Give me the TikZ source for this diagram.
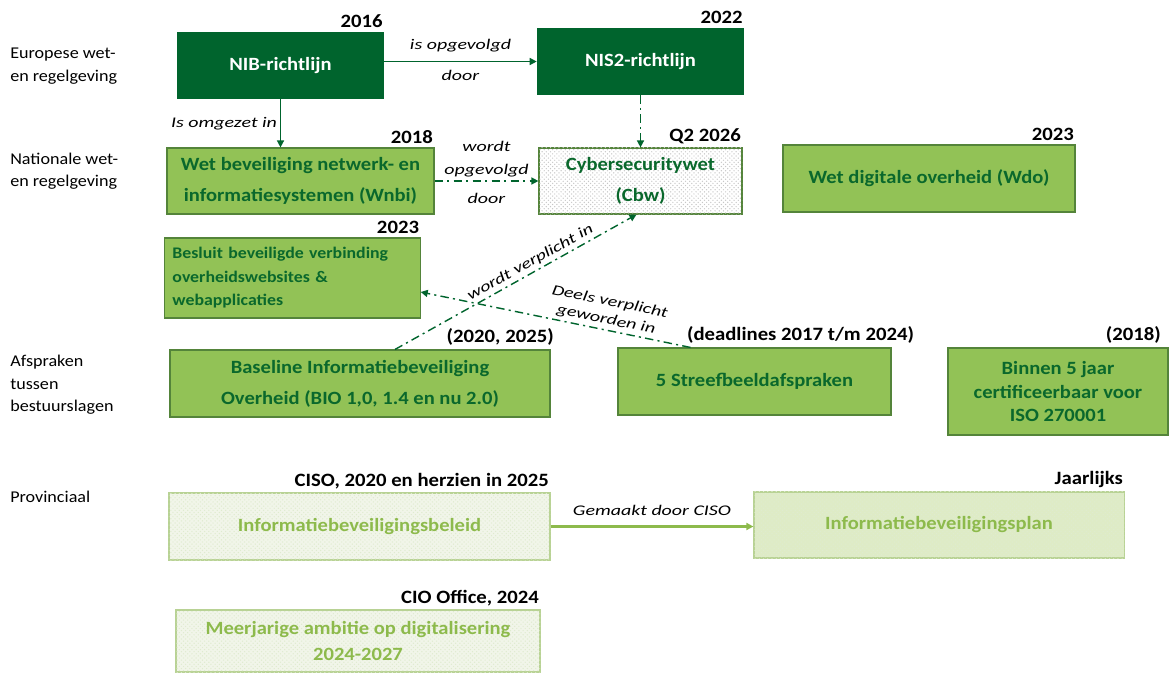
\documentclass[tikz,border=0pt]{standalone}
\usepackage{fontspec}
\setmainfont{Carlito}[FakeStretch=1.1]
\newfontfamily\verbfont{Carlito}[FakeStretch=1.35]
\usetikzlibrary{positioning, patterns, arrows.meta}

\definecolor{eugreen}{RGB}{0,100,45}
\definecolor{nlgreen}{RGB}{146,194,86}
\definecolor{nledge}{RGB}{84,132,58}
\definecolor{nltext}{RGB}{10,104,44}
\definecolor{provfill}{RGB}{241,245,233}
\definecolor{planfill}{RGB}{222,235,198}
\definecolor{provedge}{RGB}{184,210,148}
\definecolor{provtext}{RGB}{141,186,76}

\tikzset{
  eubox/.style={fill=eugreen, text=white, inner sep=0pt,
    font=\fontsize{13.3}{20}\selectfont\bfseries},
  nlbox/.style={fill=nlgreen, draw=nledge, line width=0.8pt, text=nltext,
    align=center, inner sep=0pt, font=\fontsize{13.3}{22}\selectfont\bfseries},
  cbwbox/.style={nlbox, fill=white,
    postaction={pattern=crosshatch dots, pattern color=black!22}},
  provbox/.style={fill=provfill, draw=provedge, line width=0.8pt, text=provtext,
    align=center, inner sep=0pt, font=\fontsize{13.3}{18.5}\selectfont\bfseries,
    postaction={pattern=crosshatch dots, pattern color=provedge!45}},
  planbox/.style={provbox, fill=planfill, postaction={}},
  yearlbl/.style={anchor=south east, inner xsep=1pt, inner ysep=2.5pt,
    font=\fontsize{13.4}{16}\selectfont\bfseries},
  rowlbl/.style={anchor=west, align=left, inner sep=0pt,
    font=\fontsize{11.7}{16}\selectfont},
  verblbl/.style={font=\verbfont\fontsize{10.5}{17}\selectfont\itshape, inner sep=2pt},
  link/.style={draw=eugreen, line width=1pt, -{Triangle[length=5pt,width=5pt]}},
  linkdd/.style={link, dash pattern=on 6pt off 3pt on 1.5pt off 3pt},
  provlink/.style={draw=provtext, line width=1.6pt, -{Triangle[length=5pt,width=5pt]}}
}

\begin{document}
\begin{tikzpicture}[x=0.025cm, y=-0.025cm]
  \useasboundingbox (0,0) rectangle (1176,677);

  % row labels on the left
  \node[rowlbl] (eurow) at (10,66) {Europese wet-\\en regelgeving};
  \node[rowlbl] (nlrow) at (10,171) {Nationale wet-\\en regelgeving};
  \node[rowlbl] (afrow) at (10,385) {Afspraken\\tussen\\bestuurslagen};
  \node[rowlbl] (prrow) at (10,497) {Provinciaal};

  % european level
  \node[eubox, minimum width=5.175cm, minimum height=1.675cm] (nib) at (280.5,65.5) {NIB-richtlijn};
  \node[eubox, minimum width=5.175cm, minimum height=1.675cm] (nis2) at (640.5,61.5) {NIS2-richtlijn};
  \node[yearlbl] (ynib) at (nib.north east) {2016};
  \node[yearlbl] (ynis2) at (nis2.north east) {2022};

  % national level
  \node[nlbox, minimum width=6.675cm, minimum height=1.65cm] (wnbi) at (300.5,181) {Wet beveiliging netwerk- en\\informatiesystemen (Wnbi)};
  \node[cbwbox, minimum width=5.075cm, minimum height=1.65cm] (cbw) at (640.5,181) {Cybersecuritywet\\(Cbw)};
  \node[nlbox, minimum width=7.3cm, minimum height=1.675cm] (wdo) at (929,178.5) {Wet digitale overheid (Wdo)};
  \node[nlbox, align=left, text width=6.0cm, inner xsep=0.19cm, minimum height=2cm,
    font=\fontsize{11.5}{16.7}\selectfont\bfseries] (besluit) at (292.5,278)
    {Besluit beveiligde verbinding\\overheidswebsites \&\\webapplicaties};
  \node[yearlbl] (ywnbi) at (wnbi.north east) {2018};
  \node[yearlbl] (ycbw) at (cbw.north east) {Q2 2026};
  \node[yearlbl] (ywdo) at (wdo.north east) {2023};
  \node[yearlbl] (ybesluit) at (besluit.north east) {2023};

  % afspraken tussen bestuurslagen
  \node[nlbox, minimum width=9.5cm, minimum height=1.675cm] (bio) at (360,383.5) {Baseline Informatiebeveiliging\\Overheid (BIO 1,0, 1.4 en nu 2.0)};
  \node[nlbox, minimum width=6.825cm, minimum height=1.675cm] (streef) at (754.5,381.5) {5 Streefbeeldafspraken};
  \node[nlbox, minimum width=5.5cm, minimum height=2.175cm,
    font=\fontsize{13.3}{16.8}\selectfont\bfseries] (iso) at (1058,391.5) {Binnen 5 jaar\\certificeerbaar voor\\ISO 270001};
  \node[yearlbl] (ybio) at ([xshift=0.12cm]bio.north east) {(2020, 2025)};
  \node[yearlbl] (ystreef) at ([xshift=0.6cm]streef.north east) {(deadlines 2017 t/m 2024)};
  \node[yearlbl] (yiso) at ([xshift=-0.15cm]iso.north east) {(2018)};

  % provinciaal
  \node[provbox, minimum width=9.525cm, minimum height=1.675cm] (beleid) at (359.5,526.5) {Informatiebeveiligingsbeleid};
  \node[planbox, minimum width=9.25cm, minimum height=1.65cm] (plan) at (939,525) {Informatiebeveiligingsplan};
  \node[provbox, minimum width=9.1cm, minimum height=1.55cm] (meer) at (358,641) {Meerjarige ambitie op digitalisering\\2024-2027};
  \node[yearlbl] (ybeleid) at (beleid.north east) {CISO, 2020 en herzien in 2025};
  \node[yearlbl] (yplan) at (plan.north east) {Jaarlijks};
  \node[yearlbl] (ymeer) at (meer.north east) {CIO Office, 2024};

  % connectors
  \draw[link] (nib.east |- nis2.west) -- (nis2.west)
    node[midway, above=4pt, verblbl] {is opgevolgd}
    node[midway, below=4pt, verblbl] {door};
  \draw[link] (nib.south) -- (nib.south |- wnbi.north)
    node[midway, left, verblbl] {Is omgezet in};
  \draw[linkdd] (nis2.south) -- (nis2.south |- cbw.north);
  \draw[linkdd] (wnbi.east) -- (wnbi.east -| cbw.west)
    node[midway, above, verblbl, align=center] {wordt\\opgevolgd}
    node[midway, below=6pt, verblbl] {door};
  \draw[linkdd] ([xshift=0.875cm]bio.north) -- ([xshift=-0.1cm]cbw.south)
    node[pos=0.58, sloped, above, verblbl] {wordt verplicht in};
  \draw[linkdd] ([xshift=-1.6cm]streef.north) -- ([yshift=-0.35cm]besluit.east)
    node[pos=0.32, sloped, above, verblbl, align=center, font=\verbfont\fontsize{10.5}{13}\selectfont\itshape] {Deels verplicht\\geworden in};
  \draw[provlink] (beleid.east) -- (beleid.east -| plan.west)
    node[midway, above=5pt, verblbl] {Gemaakt door CISO};
\end{tikzpicture}
\end{document}
